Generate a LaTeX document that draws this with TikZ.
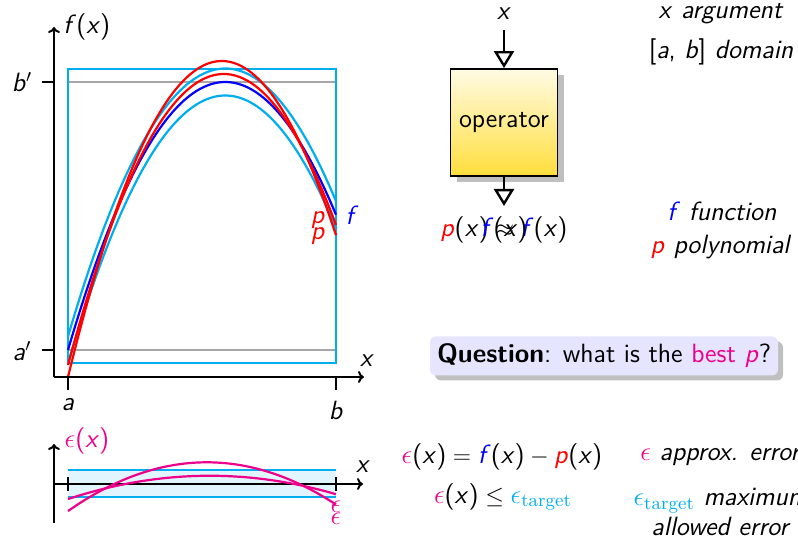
\documentclass[tikz,border=0pt]{standalone}
\usepackage{fontspec}
\usetikzlibrary{arrows.meta,shadows}
\definecolor{cyanc}{HTML}{00AEEF}
\definecolor{magc}{HTML}{EC008C}
\definecolor{opTop}{RGB}{255,251,228}
\definecolor{opBot}{RGB}{255,222,60}
\newcommand{\vi}[1]{\textit{#1}}
\newcommand{\eps}{\mbox{\scalebox{1.12}{$\epsilon$}}}
\tikzset{
  declare function={
    fb(\x)=82+(0.10407*(\x-225.3))^2;
    pa(\x)=61+(0.11559*(\x-221.8))^2;
    pb(\x)=74+(0.10950*(\x-223.8))^2;
  },
  lbl/.style={font=\sffamily\fontsize{13.2}{15}\selectfont, inner sep=0pt},
  axisline/.style={line width=1pt, -{To[length=3pt,width=6pt]}},
  tickline/.style={line width=1pt},
  curve/.style={line width=1.1pt},
  opbox/.style={draw=black, line width=0.9pt, minimum width=53.5pt, minimum height=53.5pt,
    top color=opTop, bottom color=opBot,
    drop shadow={shadow xshift=3pt, shadow yshift=-3pt, fill=black!25, opacity=1}},
  bigarrow/.style={line width=1.4pt, -{Triangle[open, length=8.5pt, width=10pt, line width=1.2pt]}},
  qbox/.style={fill=blue!10, rounded corners=3pt, minimum width=174pt, minimum height=19.5pt,
    drop shadow={shadow xshift=2.5pt, shadow yshift=-2.5pt, fill=black!25, opacity=1}},
}
\begin{document}
\begin{tikzpicture}[x=0.5pt, y=-0.5pt]
\useasboundingbox (0,0) rectangle (798,539);
\clip (0,0) rectangle (798,539);

% ---------- main plot ----------
\draw[gray!70, line width=0.6pt] (68,82) -- (336,82);
\draw[gray!70, line width=0.6pt] (68,350) -- (336,350);
\draw[cyanc, line width=1pt] (68,69) rectangle (336,363);
\draw[cyanc, curve] plot[domain=68:336, samples=80] (\x,{fb(\x)-13.5});
\draw[cyanc, curve] plot[domain=68:336, samples=80] (\x,{fb(\x)+13.5});
\draw[blue, curve] plot[domain=68:336, samples=80] (\x,{fb(\x)});
\draw[red, curve] plot[domain=68:336, samples=80] (\x,{pa(\x)});
\draw[red, curve] plot[domain=68:336, samples=80] (\x,{pb(\x)});

\coordinate (O) at (54,377);
\coordinate (Ytop) at (54,27);
\coordinate (Xend) at (364,377);
\draw[axisline] (O) -- (Ytop);
\draw[axisline] (O) -- (Xend);
\coordinate (ta1) at (68,377); \coordinate (ta2) at (68,390);
\coordinate (tb1) at (336,377); \coordinate (tb2) at (336,390);
\draw[tickline] (ta1) -- (ta2);
\draw[tickline] (tb1) -- (tb2);
\coordinate (tbp1) at (42,82); \coordinate (tbp2) at (54,82);
\coordinate (tap1) at (42,350); \coordinate (tap2) at (54,350);
\draw[tickline] (tbp1) -- (tbp2);
\draw[tickline] (tap1) -- (tap2);

\node[lbl, anchor=west] (fxlab) at (63,27) {\vi{f}(\vi{x})};
\node[lbl] (bplab) at (22,82) {\vi{b}$'$};
\node[lbl] (aplab) at (22,351) {\vi{a}$'$};
\node[lbl] (alab) at (68,405) {\vi{a}};
\node[lbl] (blab) at (336,410) {\vi{b}};
\node[lbl] (xlab) at (367,361) {\vi{x}};
\node[lbl, text=red] (plab1) at (318,220) {\vi{p}};
\node[lbl, text=red] (plab2) at (318,236) {\vi{p}};
\node[lbl, text=blue] (flab) at (352,215) {\vi{f}};

% ---------- error plot ----------
\fill[cyanc!12] (68,470.5) rectangle (336,497.5);
\draw[cyanc, line width=1pt] (68,470.5) -- (336,470.5);
\draw[cyanc, line width=1pt] (68,497.5) -- (336,497.5);
\coordinate (eO) at (54,523);
\coordinate (eYtop) at (54,444);
\coordinate (eX0) at (54,484);
\coordinate (eXend) at (363,484);
\draw[axisline] (eO) -- (eYtop);
\draw[axisline] (eX0) -- (eXend);
\coordinate (eta1) at (68,477); \coordinate (eta2) at (68,491);
\coordinate (etb1) at (336,477); \coordinate (etb2) at (336,491);
\draw[tickline] (eta1) -- (eta2);
\draw[tickline] (etb1) -- (etb2);
\draw[magc, curve] plot[domain=68:336, samples=80] (\x,{484+pa(\x)-fb(\x)});
\draw[magc, curve] plot[domain=68:336, samples=80] (\x,{484+pb(\x)-fb(\x)});
\node[lbl, text=magc] (exlab) at (87,441) {\eps(\vi{x})};
\node[lbl] (exxlab) at (363,467) {\vi{x}};
\node[lbl, text=magc] (elab1) at (336,507) {\eps};
\node[lbl, text=magc] (elab2) at (336,519) {\eps};

% ---------- operator ----------
\node[lbl] (xin) at (504,14) {\vi{x}};
\node[lbl, opbox] (op) at (504,122.5) {operator};
\coordinate (inA) at (504,30);
\coordinate (outB) at (504,206);
\draw[bigarrow] (inA) -- (op.north);
\draw[bigarrow] (op.south) -- (outB);
\node[lbl] (approx) at (504,230) {\textcolor{red}{\vi{p}}(\vi{x})${}\approx{}$\textcolor{blue}{\vi{f}}(\vi{x})};
\node[lbl] (fonly) at (504,230) {\textcolor{blue}{\vi{f}}(\vi{x})};

% ---------- legend ----------
\node[lbl] (argl) at (721,14) {\vi{x} \vi{argument}};
\node[lbl] (doml) at (721,52) {[\vi{a}, \vi{b}] \vi{domain}};
\node[lbl] (funl) at (722,211) {\textcolor{blue}{\vi{f}} \vi{function}};
\node[lbl] (poll) at (721,247) {\textcolor{red}{\vi{p}} \vi{polynomial}};

% ---------- question ----------
\node[lbl, qbox] (q) at (604,356) {\textbf{Question}: what is the \textcolor{magc}{best \vi{p}}?};

% ---------- error equations ----------
\node[lbl] (eq1) at (502,457) {\textcolor{magc}{\eps}(\vi{x})${}={}$\textcolor{blue}{\vi{f}}(\vi{x})${}-{}$\textcolor{red}{\vi{p}}(\vi{x})};
\node[lbl] (eq2) at (503,497) {\textcolor{magc}{\eps}(\vi{x})${}\le{}$\textcolor{cyanc}{$\eps_{\mathrm{target}}$}};
\node[lbl] (errl) at (721,457) {\textcolor{magc}{\eps} \vi{approx. error}};
\node[lbl, align=center] (maxl) at (721,512) {\textcolor{cyanc}{$\eps_{\mathrm{target}}$} \vi{maximum}\\ \vi{allowed error}};
\end{tikzpicture}
\end{document}
